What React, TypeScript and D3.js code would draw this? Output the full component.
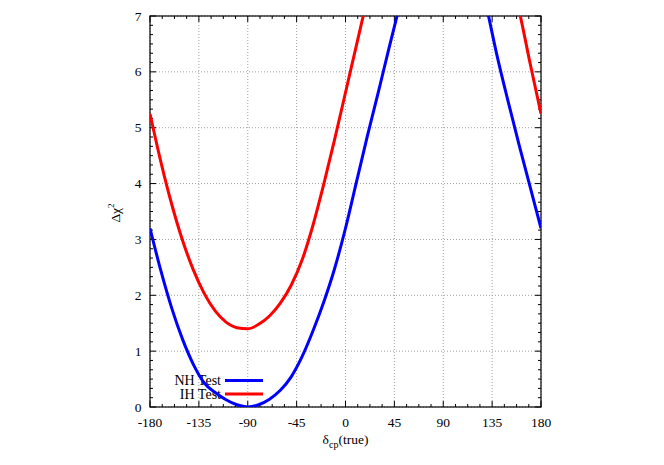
import React from "react";
import * as d3 from "d3";

const deltaCP = [-180,-170,-160,-150,-140,-130,-120,-110,-100,-90,-80,-70,-60,-50,-40,-30,-20,-10,0,10,20,30,40,50,60,70,80,90,100,110,120,130,140,150,160,170,180];
const nhTest = [3.2,2.44,1.77,1.21,0.76,0.43,0.26,0.13,0.04,0.0,0.04,0.14,0.30,0.54,0.90,1.36,1.88,2.48,3.2,4.02,4.84,5.62,6.42,7.2,8.0,8.6,9.0,9.1,9.0,8.6,8.0,7.15,6.25,5.45,4.68,3.94,3.2];
const ihTest = [5.25,4.39,3.63,2.98,2.45,2.03,1.72,1.52,1.42,1.40,1.48,1.63,1.86,2.18,2.63,3.25,3.99,4.79,5.63,6.47,7.31,8.1,8.8,9.3,9.6,9.8,9.9,9.9,9.8,9.6,9.3,8.8,8.3,7.8,7.08,6.15,5.25];
const xTicks = [-180,-135,-90,-45,0,45,90,135,180];
const yTicks = [0,1,2,3,4,5,6,7];

const W = 664, H = 465;
const L = 150, R = 541, T = 16, B = 407;
const FONT = "'Liberation Serif', 'Times New Roman', serif";

export default function App() {
  const x = d3.scaleLinear().domain([-180, 180]).range([L, R]);
  const y = d3.scaleLinear().domain([0, 7]).range([B, T]);
  const xMinor: number[] = [];
  for (let v = -180; v <= 180.001; v += 11.25) xMinor.push(v);
  const yMinor: number[] = [];
  for (let v = 0; v <= 7.001; v += 1 / 6) yMinor.push(v);
  const line = d3.line<number>().x((_, i) => x(deltaCP[i])).y((d) => y(d)).curve(d3.curveMonotoneX);
  const grid = "#a0a0a0";
  return (
    <svg width={W} height={H} style={{ position: "absolute", left: 0, top: 0, background: "#fff" }}>
      <defs>
        <clipPath id="pc"><rect x={L} y={T} width={R - L} height={B - T} /></clipPath>
      </defs>
      {xTicks.map((t) => (
        <line key={"gx" + t} x1={x(t)} x2={x(t)} y1={T} y2={B} stroke={grid} strokeWidth={1} strokeDasharray="1,2" />
      ))}
      {yTicks.map((t) => (
        <line key={"gy" + t} x1={L} x2={R} y1={y(t)} y2={y(t)} stroke={grid} strokeWidth={1} strokeDasharray="1,2" />
      ))}
      {xMinor.map((t, i) => {
        const major = i % 4 === 0;
        const len = major ? 6 : 3;
        return (
          <g key={"xt" + i}>
            <line x1={x(t)} x2={x(t)} y1={B} y2={B - len} stroke="#000" />
            <line x1={x(t)} x2={x(t)} y1={T} y2={T + len} stroke="#000" />
          </g>
        );
      })}
      {yMinor.map((t, i) => {
        const major = i % 6 === 0;
        const len = major ? 6 : 3;
        return (
          <g key={"yt" + i}>
            <line x1={L} x2={L + len} y1={y(t)} y2={y(t)} stroke="#000" />
            <line x1={R} x2={R - len} y1={y(t)} y2={y(t)} stroke="#000" />
          </g>
        );
      })}
      <rect x={L} y={T} width={R - L} height={B - T} fill="none" stroke="#000" strokeWidth={1.2} />
      {xTicks.map((t) => (
        <text key={"xl" + t} x={x(t)} y={426.5} textAnchor="middle" fontFamily={FONT} fontSize={13.5}>{t}</text>
      ))}
      {yTicks.map((t) => (
        <text key={"yl" + t} x={141.5} y={y(t) + 4.5} textAnchor="end" fontFamily={FONT} fontSize={13.5}>{t}</text>
      ))}
      <text transform="translate(119.5,213) rotate(-90)" textAnchor="middle" fontFamily={FONT} fontSize={13.5}>
        Δχ<tspan dy={-6} fontSize={9}>2</tspan>
      </text>
      <text x={345.5} y={444} textAnchor="middle" fontFamily={FONT} fontSize={13.5}>
        δ<tspan dy={4} fontSize={10}>cp</tspan><tspan dy={-4}>(true)</tspan>
      </text>
      <text x={221} y={385} textAnchor="end" fontFamily={FONT} fontSize={14}>NH Test</text>
      <text x={221} y={399} textAnchor="end" fontFamily={FONT} fontSize={14}>IH Test</text>
      <line x1={225} x2={263} y1={380.5} y2={380.5} stroke="#0000ff" strokeWidth={3} />
      <line x1={225} x2={263} y1={394} y2={394} stroke="#ff0000" strokeWidth={3} />
      <g clipPath="url(#pc)">
        <path d={line(ihTest) || ""} fill="none" stroke="#ff0000" strokeWidth={3} strokeLinejoin="round" />
        <path d={line(nhTest) || ""} fill="none" stroke="#0000ff" strokeWidth={3} strokeLinejoin="round" />
      </g>
    </svg>
  );
}
